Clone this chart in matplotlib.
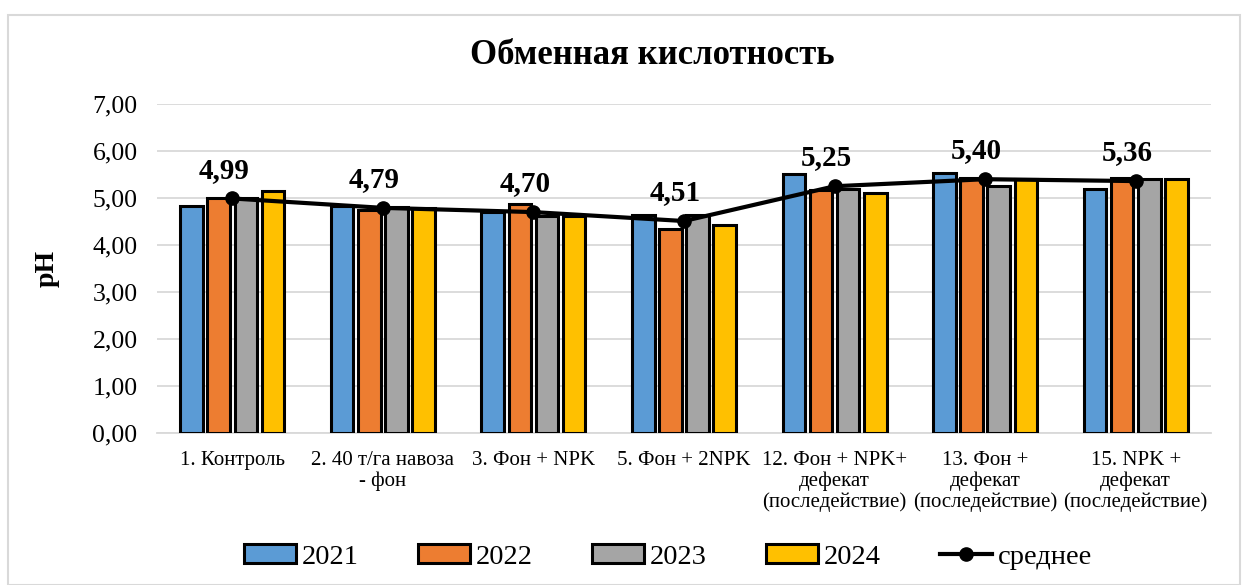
import numpy as np
import matplotlib.pyplot as plt
from matplotlib.patches import Rectangle

plt.rcParams['font.family'] = ['Liberation Serif', 'DejaVu Serif']

categories = ["1. Контроль",
              "2. 40 т/га навоза\n- фон",
              "3. Фон + NPK",
              "5. Фон + 2NPK",
              "12. Фон + NPK+\nдефекат\n(последействие)",
              "13. Фон +\nдефекат\n(последействие)",
              "15. NPK +\nдефекат\n(последействие)"]

y2021 = [4.82, 4.82, 4.70, 4.64, 5.52, 5.54, 5.20]
y2022 = [5.01, 4.74, 4.88, 4.34, 5.18, 5.42, 5.42]
y2023 = [4.99, 4.80, 4.62, 4.63, 5.20, 5.25, 5.40]
y2024 = [5.14, 4.78, 4.62, 4.43, 5.10, 5.40, 5.41]
mean = [4.99, 4.79, 4.70, 4.51, 5.25, 5.40, 5.36]

series = [("2021", y2021, "#5B9BD5"),
          ("2022", y2022, "#ED7D31"),
          ("2023", y2023, "#A5A5A5"),
          ("2024", y2024, "#FFC000")]

fig = plt.figure(figsize=(12.44, 5.85), dpi=100)
ax = fig.add_axes([157/1244, 1-433/585, 1054/1244, 329/585])

# outer chart frame
fig.patches.append(Rectangle((8/1244, 0), 1232/1244, 1-15/585, transform=fig.transFigure,
                             fill=False, edgecolor='#d9d9d9', lw=1.5))

x = np.arange(len(categories))
step = 0.18
w = 0.15
for k, (name, vals, col) in enumerate(series):
    ax.bar(x + (k-1.5)*step, vals, w, color=col, edgecolor='black', lw=2.2,
           label=name, zorder=3)

ax.plot(x, mean, color='black', lw=3, marker='o', markersize=9.5,
        label='среднее', zorder=4)
for xi, m in zip(x, mean):
    ax.annotate(f"{m:.2f}".replace('.', ','), (xi, m), xytext=(-6, 15),
                textcoords='offset points', ha='center', va='baseline',
                fontsize=21, fontweight='bold', zorder=5)

ax.set_xlim(-0.5, len(categories)-0.5)
ax.set_ylim(0, 7)
ax.set_yticks(np.arange(0, 8, 1))
ax.set_yticklabels([f"{v:.2f}".replace('.', ',') for v in np.arange(0, 8, 1)], fontsize=18.5)
ax.set_xticks(x)
ax.set_xticklabels(categories, fontsize=15, linespacing=1.1)
ax.tick_params(axis='both', length=0)
ax.tick_params(axis='y', pad=14)
ax.tick_params(axis='x', pad=13)
ax.grid(axis='y', color='#d9d9d9', lw=1.3, zorder=0)
for s in ['top', 'right', 'left']:
    ax.spines[s].set_visible(False)
ax.spines['bottom'].set_color('#d9d9d9')
ax.spines['bottom'].set_linewidth(1.3)

ax.set_ylabel("pH", fontsize=20, fontweight='bold')
ax.yaxis.set_label_coords((60-157)/1054, 0.5)
fig.text(652/1244, 1-55/585, "Обменная кислотность", ha='center', va='center',
         fontsize=25, fontweight='bold')

h, l = ax.get_legend_handles_labels()
order = [1, 2, 3, 4, 0]
fig.legend([h[i] for i in order], [l[i] for i in order], loc='center',
           bbox_to_anchor=(668/1244, 1-557/585), ncol=5, frameon=False,
           fontsize=20.5, handlelength=1.83, handleheight=0.6, columnspacing=2.1,
           handletextpad=0.18)

fig.savefig("out.png", dpi=100)
